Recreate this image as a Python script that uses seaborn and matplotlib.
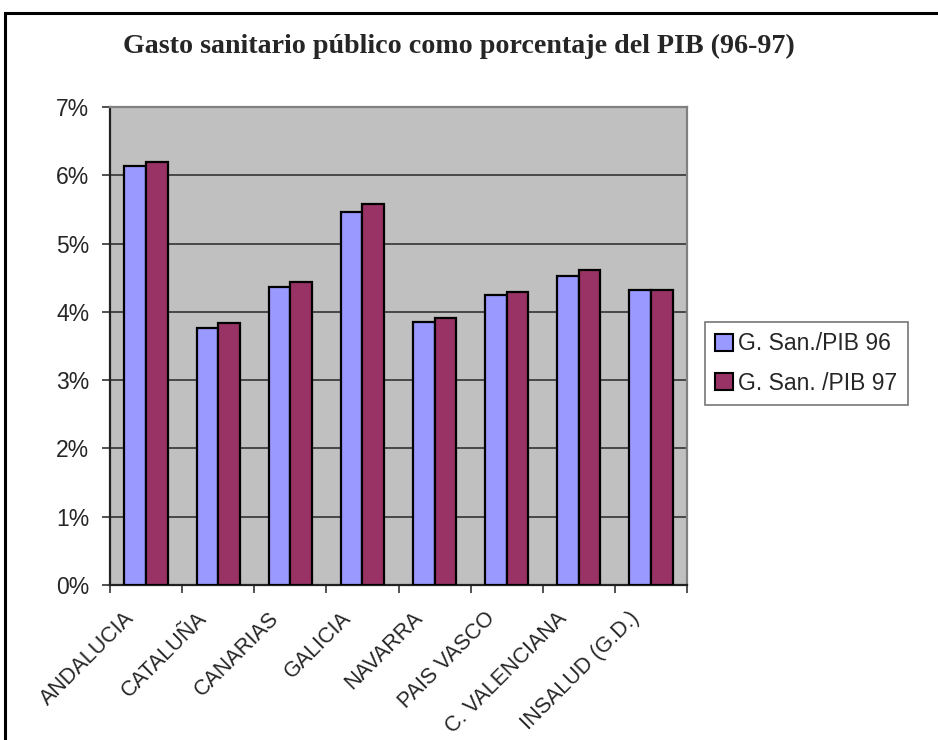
import matplotlib
matplotlib.use("Agg")
import matplotlib.pyplot as plt
import matplotlib.patches as mpatches
import matplotlib.transforms as mtransforms
from matplotlib.ticker import FixedLocator, FuncFormatter
import pandas as pd
import seaborn as sns

# Public health spending as % of GDP by region, 1996 vs 1997
regiones = ["ANDALUCIA", "CATALUÑA", "CANARIAS", "GALICIA", "NAVARRA",
            "PAIS VASCO", "C. VALENCIANA", "INSALUD (G.D.)"]
gasto_96 = [6.14, 3.76, 4.37, 5.46, 3.85, 4.24, 4.53, 4.32]
gasto_97 = [6.19, 3.83, 4.44, 5.58, 3.91, 4.29, 4.61, 4.32]
serie_96 = "G. San./PIB 96"
serie_97 = "G. San. /PIB 97"

df = pd.DataFrame({
    "region": regiones * 2,
    "valor": gasto_96 + gasto_97,
    "serie": [serie_96] * len(regiones) + [serie_97] * len(regiones),
})

sns.set_theme(style="white")
plt.rcParams["font.family"] = ["Liberation Sans", "DejaVu Sans"]

fig = plt.figure(figsize=(9.38, 7.4), dpi=100)
ax = fig.add_axes([110 / 938, 1 - 585 / 740, 577 / 938, 478 / 740])
ax.set_facecolor("#C0C0C0")

colores = {serie_96: "#9999FF", serie_97: "#993366"}
sns.barplot(data=df, x="region", y="valor", hue="serie", palette=colores,
            saturation=1, width=0.6, edgecolor="black", linewidth=1.6, ax=ax,
            legend=False, zorder=3)

ax.set_ylim(0, 7)
ax.set_xlim(-0.5, len(regiones) - 0.5)
ax.yaxis.set_major_locator(FixedLocator(range(0, 8)))
ax.yaxis.set_major_formatter(FuncFormatter(lambda v, p: f"{int(v)}%"))
ax.grid(axis="y", color="#333333", linewidth=1.2, zorder=1)
ax.set_axisbelow(True)
ax.set_xlabel("")
ax.set_ylabel("")

ax.tick_params(axis="y", which="major", direction="out", length=6, width=1.2,
               color="#333333", labelsize=16.5, pad=9, left=True)
ax.set_xticks(range(len(regiones)))
ax.set_xticklabels(regiones, rotation=45, ha="right", rotation_mode="anchor",
                   fontsize=15.5)
ax.set_xticks([i - 0.5 for i in range(len(regiones) + 1)], minor=True)
ax.tick_params(axis="x", which="major", length=0, pad=16.5)
ax.tick_params(axis="x", which="minor", direction="out", length=6, width=1.2,
               color="#333333", bottom=True)
shift = mtransforms.ScaledTranslation(-22 / 100, 0, fig.dpi_scale_trans)
for lbl in ax.get_xticklabels():
    lbl.set_transform(lbl.get_transform() + shift)

for s in ["left", "bottom"]:
    ax.spines[s].set_color("#222222")
    ax.spines[s].set_linewidth(1.6)
for s in ["top", "right"]:
    ax.spines[s].set_color("#808080")
    ax.spines[s].set_linewidth(1.6)

fig.text(459 / 938, 1 - 46 / 740,
         "Gasto sanitario público como porcentaje del PIB (96-97)",
         ha="center", va="center", fontsize=20.2, fontweight="bold",
         family=["Liberation Serif", "DejaVu Serif"])

handles = [mpatches.Patch(facecolor=colores[s], edgecolor="black", linewidth=1.5, label=s)
           for s in (serie_96, serie_97)]
leg = fig.legend(handles=handles, loc="upper left",
                 bbox_to_anchor=(705 / 938, 1 - 322 / 740),
                 frameon=True, fancybox=False, fontsize=16.5,
                 handlelength=0.75, handleheight=0.75, handletextpad=0.26,
                 labelspacing=0.72, borderpad=0.45, borderaxespad=0)
leg.get_frame().set_edgecolor("#555555")
leg.get_frame().set_linewidth(1.2)

# outer chart frame
fig.patches.append(mpatches.Rectangle((5 / 938, -0.05), 1.2, 1 - 13 / 740 + 0.05,
                                      transform=fig.transFigure, fill=False,
                                      edgecolor="black", linewidth=2.2))

fig.savefig("out.png", dpi=100)
